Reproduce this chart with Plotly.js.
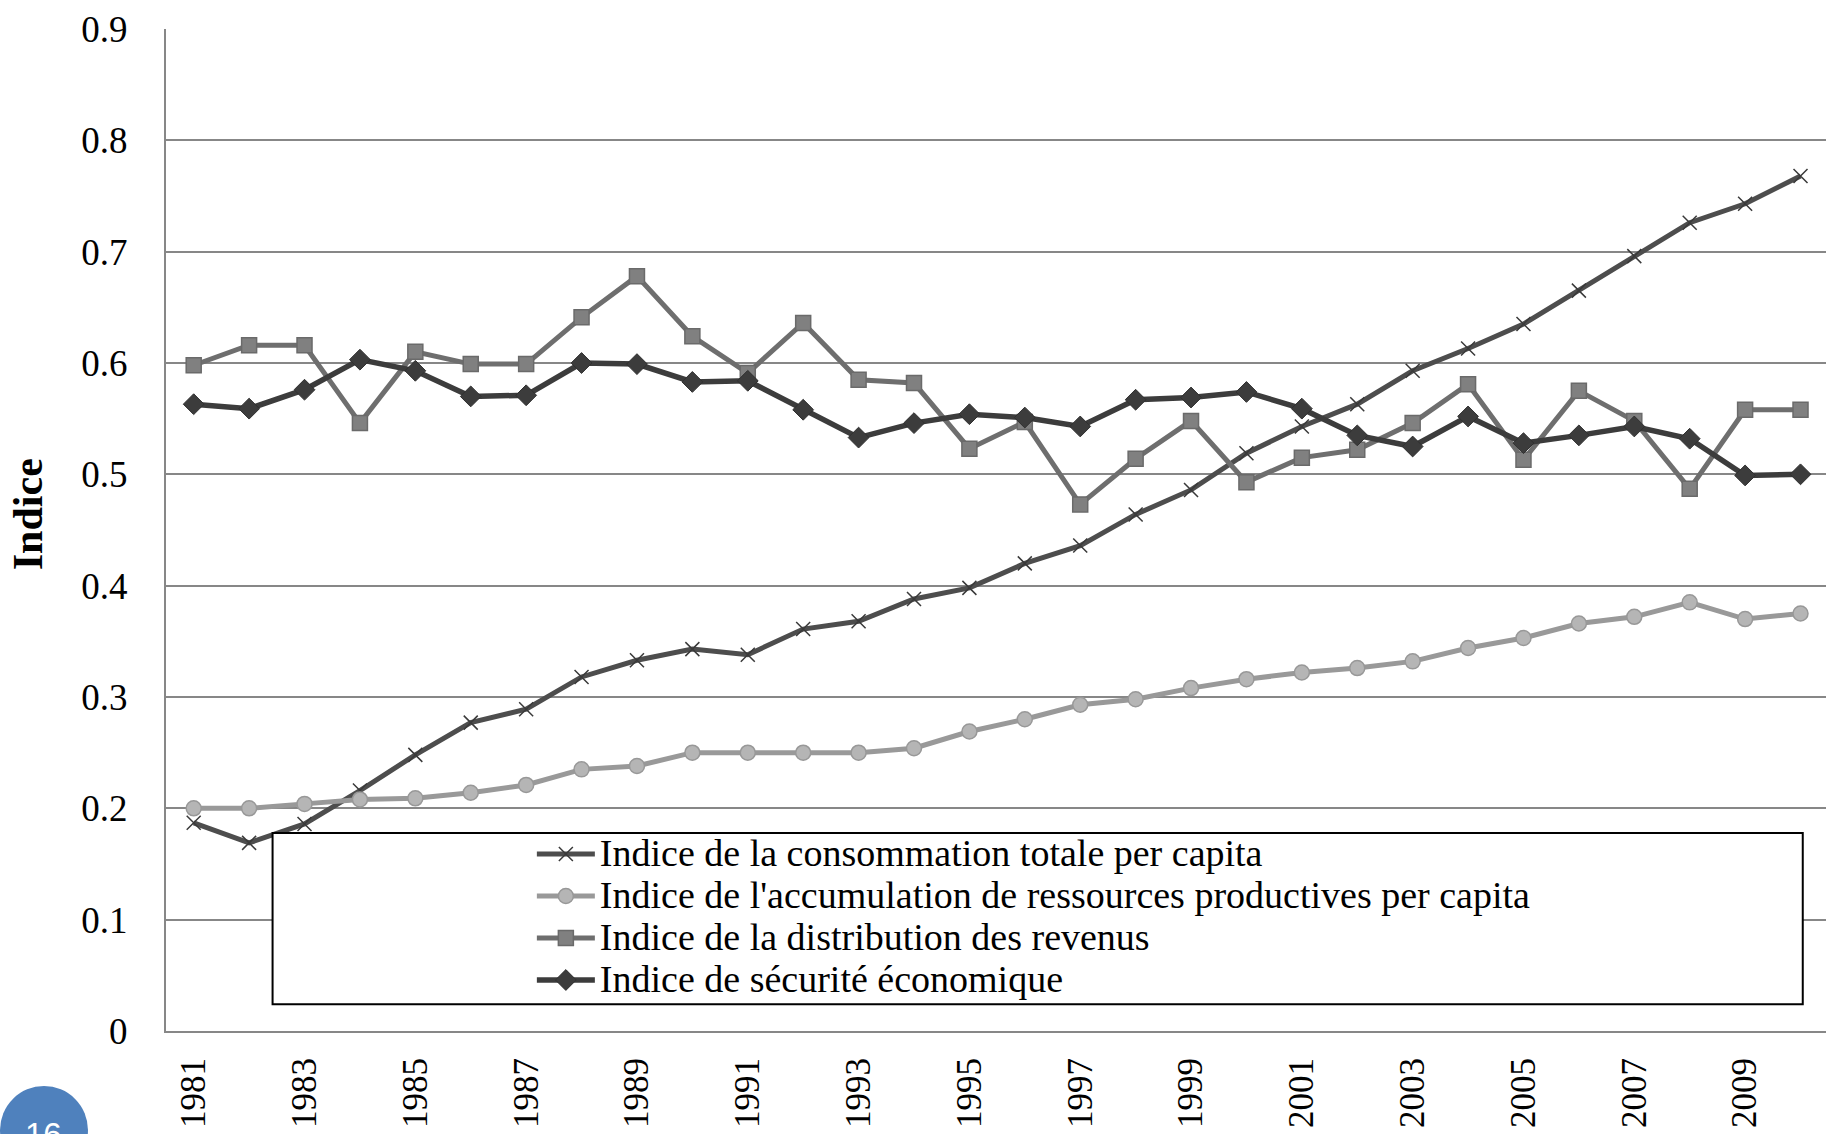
<!DOCTYPE html>
<html>
<head>
<meta charset="utf-8">
<script src="https://cdn.plot.ly/plotly-3.0.1.min.js"></script>
<style>
  html, body { margin: 0; padding: 0; background: #ffffff; }
  #chart { width: 1826px; height: 1134px; }
</style>
</head>
<body>
<div id="chart"></div>
<script>
const years = [1981, 1982, 1983, 1984, 1985, 1986, 1987, 1988, 1989, 1990,
               1991, 1992, 1993, 1994, 1995, 1996, 1997, 1998, 1999, 2000,
               2001, 2002, 2003, 2004, 2005, 2006, 2007, 2008, 2009, 2010];

const consommation = [0.187, 0.169, 0.186, 0.216, 0.248, 0.277, 0.289, 0.318, 0.333, 0.343,
                      0.338, 0.361, 0.368, 0.388, 0.398, 0.420, 0.436, 0.464, 0.486, 0.519,
                      0.543, 0.563, 0.593, 0.613, 0.635, 0.665, 0.696, 0.726, 0.743, 0.768];

const accumulation = [0.200, 0.200, 0.204, 0.208, 0.209, 0.214, 0.221, 0.235, 0.238, 0.250,
                      0.250, 0.250, 0.250, 0.254, 0.269, 0.280, 0.293, 0.298, 0.308, 0.316,
                      0.322, 0.326, 0.332, 0.344, 0.353, 0.366, 0.372, 0.385, 0.370, 0.375];

const distribution = [0.598, 0.616, 0.616, 0.546, 0.610, 0.599, 0.599, 0.641, 0.678, 0.624,
                      0.591, 0.636, 0.585, 0.582, 0.523, 0.547, 0.473, 0.514, 0.548, 0.493,
                      0.515, 0.522, 0.546, 0.581, 0.513, 0.575, 0.548, 0.487, 0.558, 0.558];

const securite = [0.563, 0.559, 0.576, 0.603, 0.593, 0.570, 0.571, 0.600, 0.599, 0.583,
                  0.584, 0.558, 0.533, 0.546, 0.554, 0.551, 0.543, 0.567, 0.569, 0.574,
                  0.559, 0.535, 0.525, 0.552, 0.528, 0.535, 0.543, 0.532, 0.499, 0.500];

const seriesNames = [
  "Indice de la consommation totale per capita",
  "Indice de l'accumulation de ressources productives per capita",
  "Indice de la distribution des revenus",
  "Indice de sécurité économique"
];

const yTickVals = [0, 0.1, 0.2, 0.3, 0.4, 0.5, 0.6, 0.7, 0.8, 0.9];
const yTickText = ["0", "0.1", "0.2", "0.3", "0.4", "0.5", "0.6", "0.7", "0.8", "0.9"];
const yTitle = "Indice";
const pageNumber = "16";

const SERIF = '"Liberation Serif", "Times New Roman", serif';
const legendName = n => '<span style="font-size:38px">' + n + '</span>';

const traces = [
  {
    x: years, y: consommation, name: legendName(seriesNames[0]),
    type: 'scatter', mode: 'lines+markers',
    line: { color: '#4d4d4d', width: 5 },
    marker: { symbol: 'x-thin', size: 14, color: '#3a3a3a', line: { color: '#3a3a3a', width: 1.5 } }
  },
  {
    x: years, y: accumulation, name: legendName(seriesNames[1]),
    type: 'scatter', mode: 'lines+markers',
    line: { color: '#999999', width: 5 },
    marker: { symbol: 'circle', size: 15, color: '#b5b5b5', line: { color: '#989898', width: 1.5 } }
  },
  {
    x: years, y: distribution, name: legendName(seriesNames[2]),
    type: 'scatter', mode: 'lines+markers',
    line: { color: '#6e6e6e', width: 5 },
    marker: { symbol: 'square', size: 15, color: '#808080', line: { color: '#6a6a6a', width: 1.5 } }
  },
  {
    x: years, y: securite, name: legendName(seriesNames[3]),
    type: 'scatter', mode: 'lines+markers',
    line: { color: '#3c3c3c', width: 5.5 },
    marker: { symbol: 'diamond', size: 16, color: '#3c3c3c', line: { color: '#303030', width: 1 } }
  }
];

const layout = {
  width: 1826, height: 1134,
  margin: { l: 166, r: 0, t: 29, b: 103, pad: 0 },
  paper_bgcolor: '#ffffff', plot_bgcolor: '#ffffff',
  font: { family: SERIF, color: '#000000' },
  showlegend: true,
  xaxis: {
    range: [1980.5, 2010.46],
    tickmode: 'linear', tick0: 1981, dtick: 2,
    tickangle: -90,
    tickfont: { family: SERIF, size: 35, color: '#000000' },
    ticks: '', ticklabelstandoff: 11,
    showgrid: false, zeroline: false,
    showline: true, linecolor: '#878787', linewidth: 2,
    fixedrange: true
  },
  yaxis: {
    range: [0, 0.9],
    tickmode: 'array', tickvals: yTickVals, ticktext: yTickText,
    tickfont: { family: SERIF, size: 37, color: '#000000' },
    ticks: '', ticklabelstandoff: 29,
    showgrid: true, gridcolor: '#878787', gridwidth: 2,
    zeroline: false,
    showline: true, linecolor: '#878787', linewidth: 2,
    title: { text: '<b>&nbsp;&nbsp;&nbsp;' + yTitle + '</b>', font: { family: SERIF, size: 42, color: '#000000' }, standoff: 26 },
    fixedrange: true
  },
  legend: {
    x: 0.2204, y: 0.2026, xanchor: 'left', yanchor: 'top',
    bgcolor: 'rgba(0,0,0,0)', borderwidth: 0,
    itemwidth: 58,
    font: { family: SERIF, size: 30, color: '#000000' },
    traceorder: 'normal'
  },
  shapes: [
    {
      type: 'rect', xref: 'paper', yref: 'paper', layer: 'above',
      x0: 0.0642, x1: 0.986, y0: 0.0268, y1: 0.1977,
      fillcolor: '#ffffff', line: { color: '#000000', width: 2 }
    },
    {
      type: 'circle', xref: 'paper', yref: 'paper', layer: 'above',
      x0: -0.1, x1: -0.047, y0: -0.1427, y1: -0.0549,
      fillcolor: '#4f81bd', line: { width: 0 }
    }
  ],
  annotations: [
    {
      text: pageNumber, xref: 'paper', yref: 'paper',
      x: -0.0735, y: -0.1028, xanchor: 'center', yanchor: 'middle',
      showarrow: false,
      font: { family: '"Liberation Sans", Arial, sans-serif', size: 33, color: '#ffffff' }
    }
  ]
};

Plotly.newPlot('chart', traces, layout, { displayModeBar: false, staticPlot: true });
</script>
</body>
</html>
